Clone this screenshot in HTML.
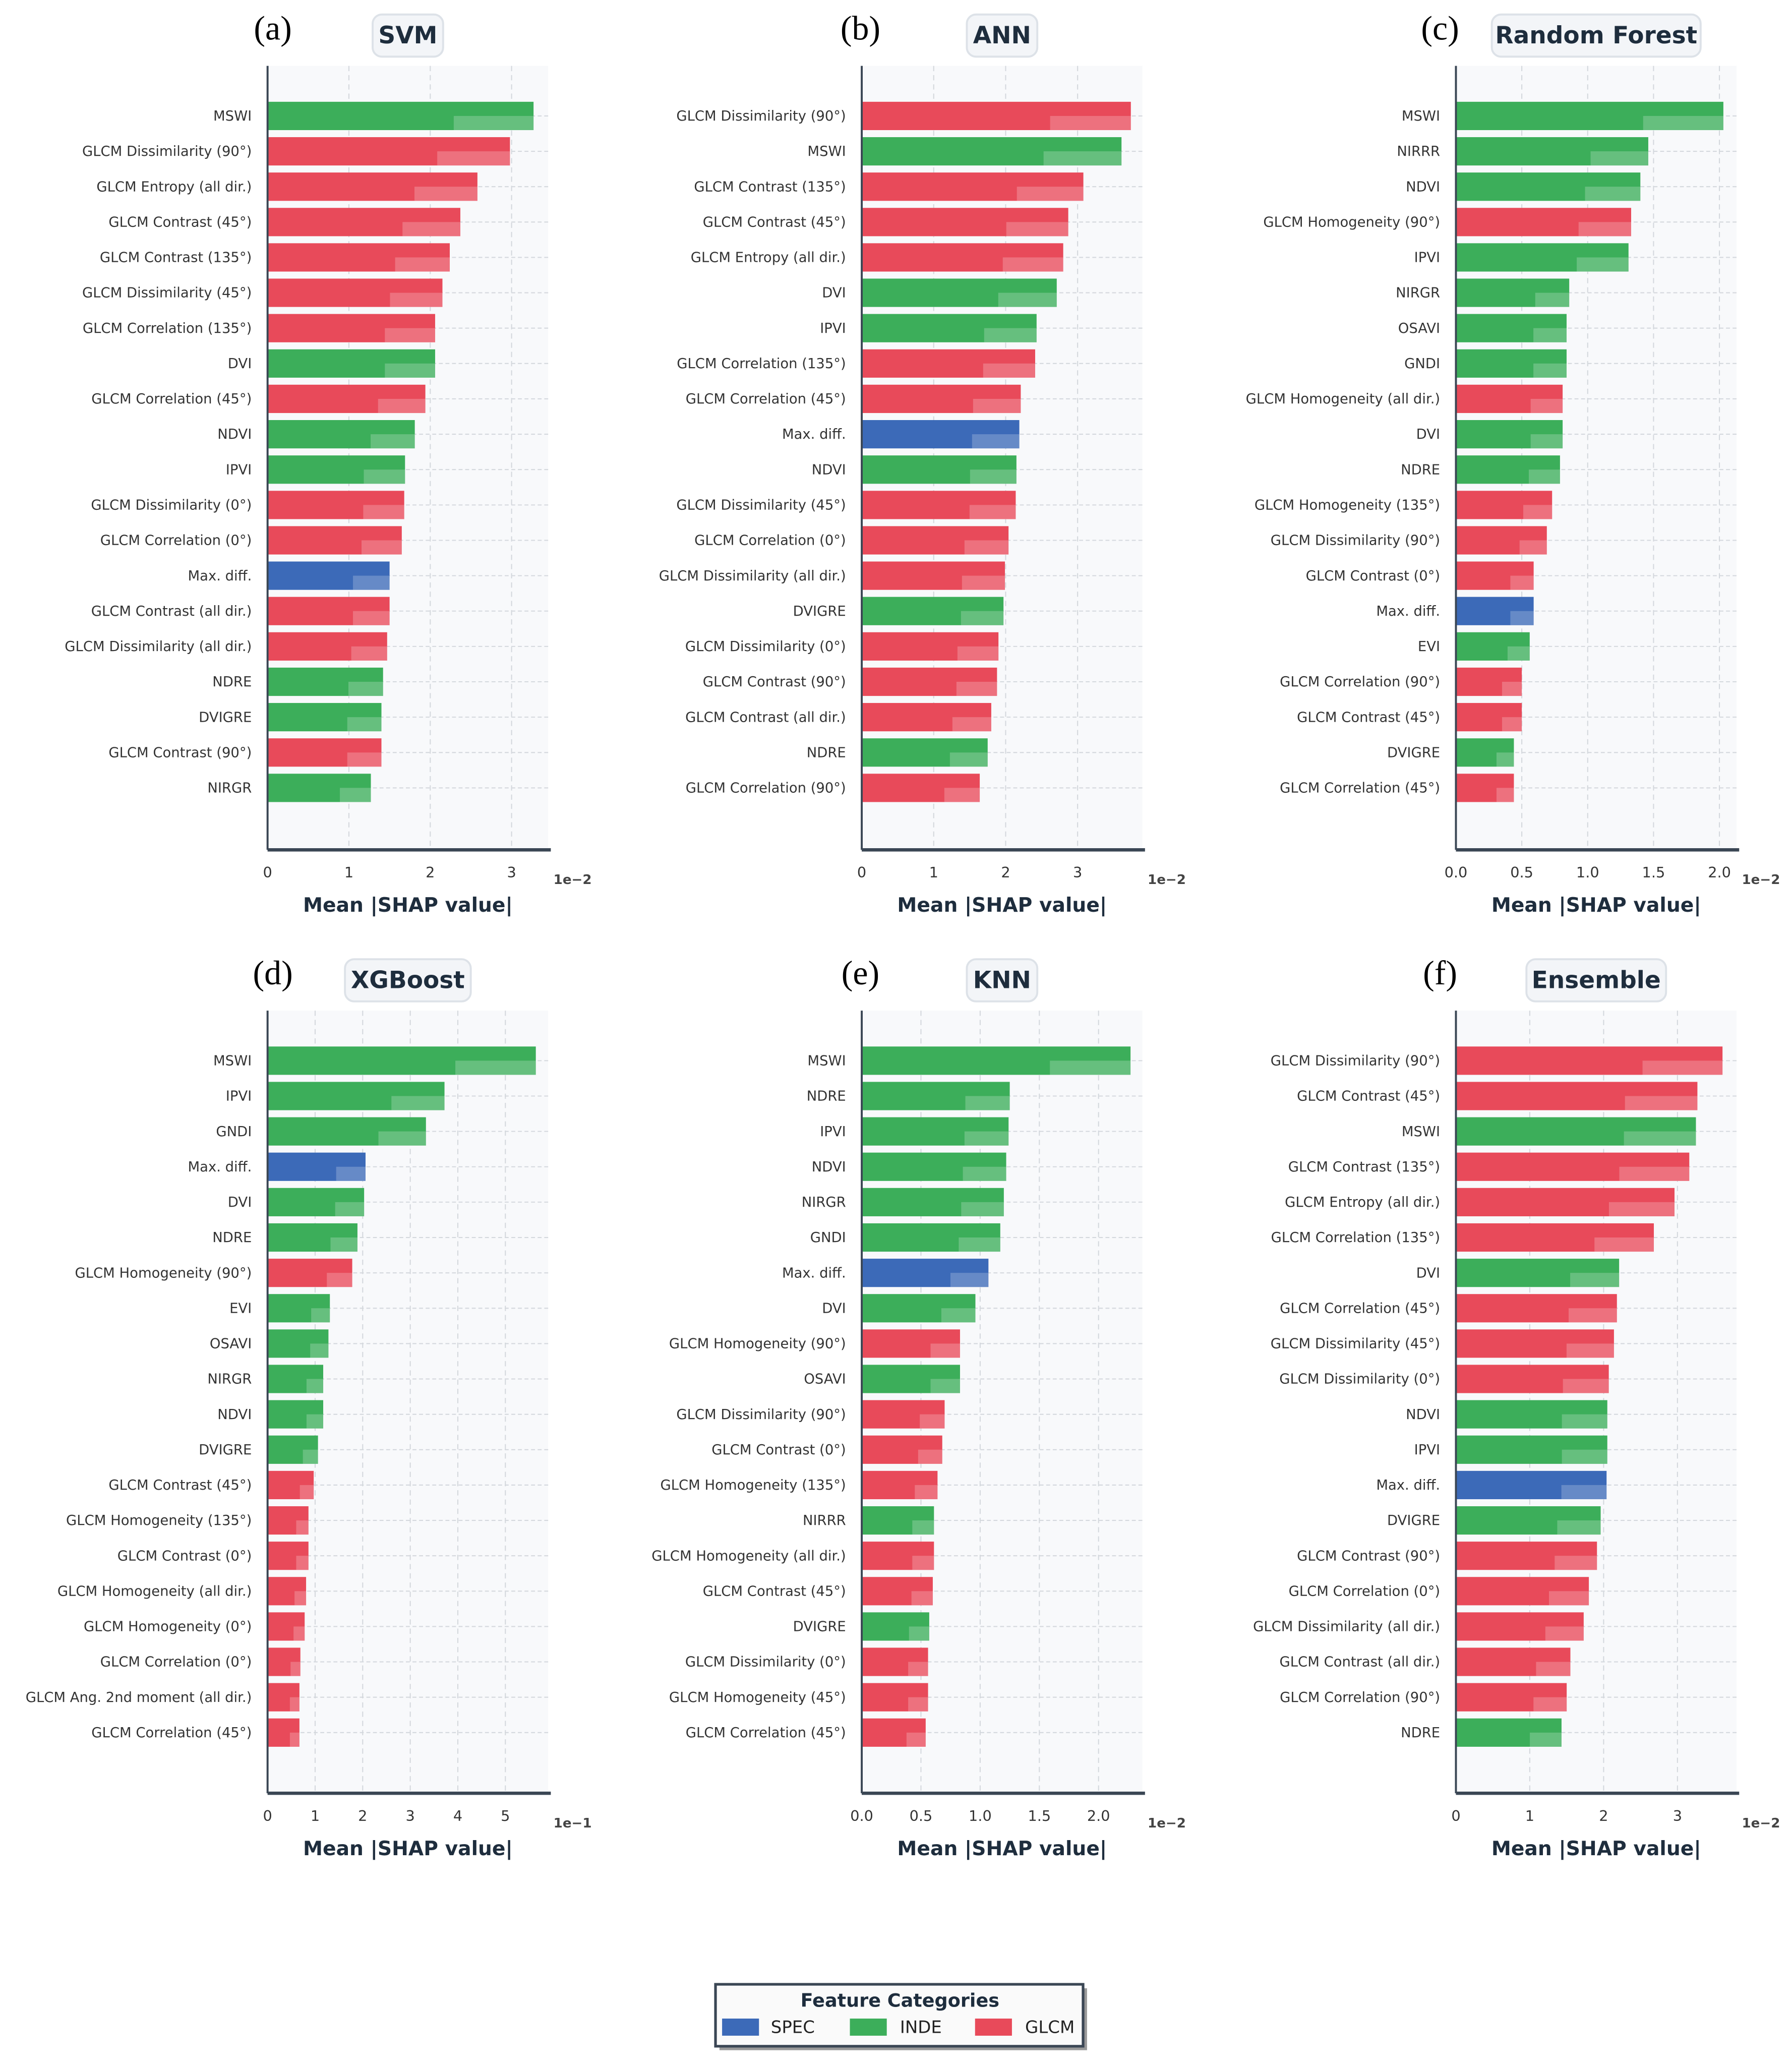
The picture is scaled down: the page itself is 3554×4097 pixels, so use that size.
<!DOCTYPE html>
<html><head><meta charset="utf-8"><style>
html,body{margin:0;padding:0;background:#fff;}
svg{display:block;}
</style></head><body>
<svg id="fig" width="3554" height="4097" viewBox="0 0 1360 1568" xmlns="http://www.w3.org/2000/svg" font-family="DejaVu Sans, Liberation Sans, sans-serif">
<g id="root"></g>
<g>
  <rect x="546" y="1509" width="279" height="47" fill="#555" opacity="0.6"/>
  <rect x="543" y="1506" width="279" height="47" fill="#fafafa" stroke="#3a4654" stroke-width="2"/>
  <text x="683" y="1523" text-anchor="middle" font-size="14" font-weight="bold" fill="#1e2d3d">Feature Categories</text>
  <rect x="548" y="1532" width="28" height="13" fill="#3c6ab8"/>
  <text x="585" y="1543" font-size="13" fill="#222">SPEC</text>
  <rect x="645" y="1532" width="28" height="13" fill="#3cae5a"/>
  <text x="683" y="1543" font-size="13" fill="#222">INDE</text>
  <rect x="740" y="1532" width="28" height="13" fill="#e84a5a"/>
  <text x="778" y="1543" font-size="13" fill="#222">GLCM</text>
</g>
</svg>
<script>
// ---- data ----
const svmFeatures=["MSWI","GLCM Dissimilarity (90°)","GLCM Entropy (all dir.)","GLCM Contrast (45°)","GLCM Contrast (135°)","GLCM Dissimilarity (45°)","GLCM Correlation (135°)","DVI","GLCM Correlation (45°)","NDVI","IPVI","GLCM Dissimilarity (0°)","GLCM Correlation (0°)","Max. diff.","GLCM Contrast (all dir.)","GLCM Dissimilarity (all dir.)","NDRE","DVIGRE","GLCM Contrast (90°)","NIRGR"];
const svmValues=[3.27,2.98,2.58,2.37,2.24,2.15,2.06,2.06,1.94,1.81,1.69,1.68,1.65,1.5,1.5,1.47,1.42,1.40,1.40,1.27];
const svmCats=["I","G","G","G","G","G","G","I","G","I","I","G","G","S","G","G","I","I","G","I"];
const svmTicks=[0,1,2,3];

const annFeatures=["GLCM Dissimilarity (90°)","MSWI","GLCM Contrast (135°)","GLCM Contrast (45°)","GLCM Entropy (all dir.)","DVI","IPVI","GLCM Correlation (135°)","GLCM Correlation (45°)","Max. diff.","NDVI","GLCM Dissimilarity (45°)","GLCM Correlation (0°)","GLCM Dissimilarity (all dir.)","DVIGRE","GLCM Dissimilarity (0°)","GLCM Contrast (90°)","GLCM Contrast (all dir.)","NDRE","GLCM Correlation (90°)"];
const annValues=[3.74,3.61,3.08,2.87,2.80,2.71,2.43,2.41,2.21,2.19,2.15,2.14,2.04,1.99,1.97,1.90,1.88,1.80,1.75,1.64];
const annCats=["G","I","G","G","G","I","I","G","G","S","I","G","G","G","I","G","G","G","I","G"];
const annTicks=[0,1,2,3];

const rfFeatures=["MSWI","NIRRR","NDVI","GLCM Homogeneity (90°)","IPVI","NIRGR","OSAVI","GNDI","GLCM Homogeneity (all dir.)","DVI","NDRE","GLCM Homogeneity (135°)","GLCM Dissimilarity (90°)","GLCM Contrast (0°)","Max. diff.","EVI","GLCM Correlation (90°)","GLCM Contrast (45°)","DVIGRE","GLCM Correlation (45°)"];
const rfValues=[2.03,1.46,1.40,1.33,1.31,0.86,0.84,0.84,0.81,0.81,0.79,0.73,0.69,0.59,0.59,0.56,0.50,0.50,0.44,0.44];
const rfCats=["I","I","I","G","I","I","I","I","G","I","I","G","G","G","S","I","G","G","I","G"];
const rfTicks=[0,0.5,1.0,1.5,2.0];

const xgbFeatures=["MSWI","IPVI","GNDI","Max. diff.","DVI","NDRE","GLCM Homogeneity (90°)","EVI","OSAVI","NIRGR","NDVI","DVIGRE","GLCM Contrast (45°)","GLCM Homogeneity (135°)","GLCM Contrast (0°)","GLCM Homogeneity (all dir.)","GLCM Homogeneity (0°)","GLCM Correlation (0°)","GLCM Ang. 2nd moment (all dir.)","GLCM Correlation (45°)"];
const xgbValues=[5.64,3.72,3.33,2.06,2.03,1.89,1.78,1.31,1.28,1.17,1.17,1.06,0.97,0.86,0.86,0.81,0.78,0.69,0.67,0.67];
const xgbCats=["I","I","I","S","I","I","G","I","I","I","I","I","G","G","G","G","G","G","G","G"];
const xgbTicks=[0,1,2,3,4,5];

const knnFeatures=["MSWI","NDRE","IPVI","NDVI","NIRGR","GNDI","Max. diff.","DVI","GLCM Homogeneity (90°)","OSAVI","GLCM Dissimilarity (90°)","GLCM Contrast (0°)","GLCM Homogeneity (135°)","NIRRR","GLCM Homogeneity (all dir.)","GLCM Contrast (45°)","DVIGRE","GLCM Dissimilarity (0°)","GLCM Homogeneity (45°)","GLCM Correlation (45°)"];
const knnValues=[2.27,1.25,1.24,1.22,1.20,1.17,1.07,0.96,0.83,0.83,0.70,0.68,0.64,0.61,0.61,0.60,0.57,0.56,0.56,0.54];
const knnCats=["I","I","I","I","I","I","S","I","G","I","G","G","G","I","G","G","I","G","G","G"];
const knnTicks=[0,0.5,1.0,1.5,2.0];

const ensFeatures=["GLCM Dissimilarity (90°)","GLCM Contrast (45°)","MSWI","GLCM Contrast (135°)","GLCM Entropy (all dir.)","GLCM Correlation (135°)","DVI","GLCM Correlation (45°)","GLCM Dissimilarity (45°)","GLCM Dissimilarity (0°)","NDVI","IPVI","Max. diff.","DVIGRE","GLCM Contrast (90°)","GLCM Correlation (0°)","GLCM Dissimilarity (all dir.)","GLCM Contrast (all dir.)","GLCM Correlation (90°)","NDRE"];
const ensValues=[3.61,3.27,3.25,3.16,2.96,2.68,2.21,2.18,2.14,2.07,2.05,2.05,2.04,1.96,1.91,1.80,1.73,1.55,1.50,1.43];
const ensCats=["G","G","I","G","G","G","I","G","G","G","I","I","S","I","G","G","G","G","G","I"];
const ensTicks=[0,1,2,3];

const panels=[
 {id:"svm",letter:"(a)",title:"SVM",feat:svmFeatures,vals:svmValues,cats:svmCats,ticks:svmTicks,dec:0,xmax:3.45,exp:"1e−2"},
 {id:"ann",letter:"(b)",title:"ANN",feat:annFeatures,vals:annValues,cats:annCats,ticks:annTicks,dec:0,xmax:3.9,exp:"1e−2"},
 {id:"rf",letter:"(c)",title:"Random Forest",feat:rfFeatures,vals:rfValues,cats:rfCats,ticks:rfTicks,dec:1,xmax:2.13,exp:"1e−2"},
 {id:"xgb",letter:"(d)",title:"XGBoost",feat:xgbFeatures,vals:xgbValues,cats:xgbCats,ticks:xgbTicks,dec:0,xmax:5.9,exp:"1e−1"},
 {id:"knn",letter:"(e)",title:"KNN",feat:knnFeatures,vals:knnValues,cats:knnCats,ticks:knnTicks,dec:1,xmax:2.37,exp:"1e−2"},
 {id:"ens",letter:"(f)",title:"Ensemble",feat:ensFeatures,vals:ensValues,cats:ensCats,ticks:ensTicks,dec:0,xmax:3.8,exp:"1e−2"}
];
const colors={S:"#3c6ab8",I:"#3cae5a",G:"#e84a5a"};
const NS="http://www.w3.org/2000/svg";
const root=document.getElementById('root');
function mk(tag,attrs,parent,text){const e=document.createElementNS(NS,tag);for(const k in attrs)e.setAttribute(k,attrs[k]);if(text!==undefined)e.textContent=text;parent.appendChild(e);return e;}

const colX=[203,654,1105], plotW=213;
const rowTop=[50,767], rowBot=[645,1361];
panels.forEach((p,i)=>{
  const L=colX[i%3], R=L+plotW, T=rowTop[Math.floor(i/3)], B=rowBot[Math.floor(i/3)];
  const g=mk('g',{},root);
  
  
  const xs=v=>L+(v/p.xmax)*(R-L);
  const step=26.84, y0=T+38, bh=21.5;
  const ys=k=>y0+k*step;
  const bg=mk('rect',{x:L,y:T,width:R-L,height:B-T,fill:"#f8f9fb"},g);
  
  
  p.ticks.forEach(t=>{ if(t>0){const gl=mk('line',{x1:xs(t),x2:xs(t),y1:T,y2:B,stroke:"#d4d8dd","stroke-width":0.8,"stroke-dasharray":"4 3"},g);
    
    }});
  p.feat.forEach((f,k)=>{const hl=mk('line',{x1:L,x2:R,y1:ys(k),y2:ys(k),stroke:"#d4d8dd","stroke-width":0.8,"stroke-dasharray":"3 2"},g);
    
    });
  p.vals.forEach((v,k)=>{
    const b=mk('rect',{x:L,y:ys(k)-bh/2,width:xs(v)-L,height:bh,fill:colors[p.cats[k]]},g);
    
    
    const hi=mk('rect',{x:xs(v*0.7),y:ys(k),width:xs(v)-xs(v*0.7),height:bh/2,fill:"#ffffff",opacity:0.22},g);
    
    
    const lb=mk('text',{x:L-12,y:ys(k)+3.5,"text-anchor":"end","font-size":10.5,fill:"#333"},g,p.feat[k]);
    
    
  });
  const ay=mk('line',{x1:L,x2:L,y1:T,y2:B,stroke:"#3a4654","stroke-width":1.5},g);
  
  
  const ax=mk('line',{x1:L,x2:R+2,y1:B,y2:B,stroke:"#3a4654","stroke-width":2.5},g);
  
  
  p.ticks.forEach(t=>{const tl=mk('text',{x:xs(t),y:B+21,"text-anchor":"middle","font-size":11,fill:"#333"},g,t.toFixed(p.dec));
    
    });
  const ex=mk('text',{x:R+4,y:B+26,"font-size":10,"font-weight":"bold",fill:"#444"},g,p.exp);
  
  
  const xl=mk('text',{x:(L+R)/2,y:B+47,"text-anchor":"middle","font-size":15,"font-weight":"bold",fill:"#1e2d3d"},g,"Mean |SHAP value|");
  
  
  const cx=(L+R)/2, ty=T-23;
  const tw=p.title.length*10.5+22;
  const tb=mk('rect',{x:cx-tw/2,y:ty-16,width:tw,height:32,rx:7,fill:"#f3f5f8",stroke:"#dde2e8","stroke-width":1.5},g);
  
  
  const tt=mk('text',{x:cx,y:ty+6,"text-anchor":"middle","font-size":18,"font-weight":"bold",fill:"#1e2d3d"},g,p.title);
  
  
  const lx=[207,653,1093][i%3];
  const lt=mk('text',{x:lx,y:T-20,"text-anchor":"middle","font-size":26,"font-family":"Liberation Serif, serif",fill:"#000"},g,p.letter);
  
  
});
</script>
</body></html>
